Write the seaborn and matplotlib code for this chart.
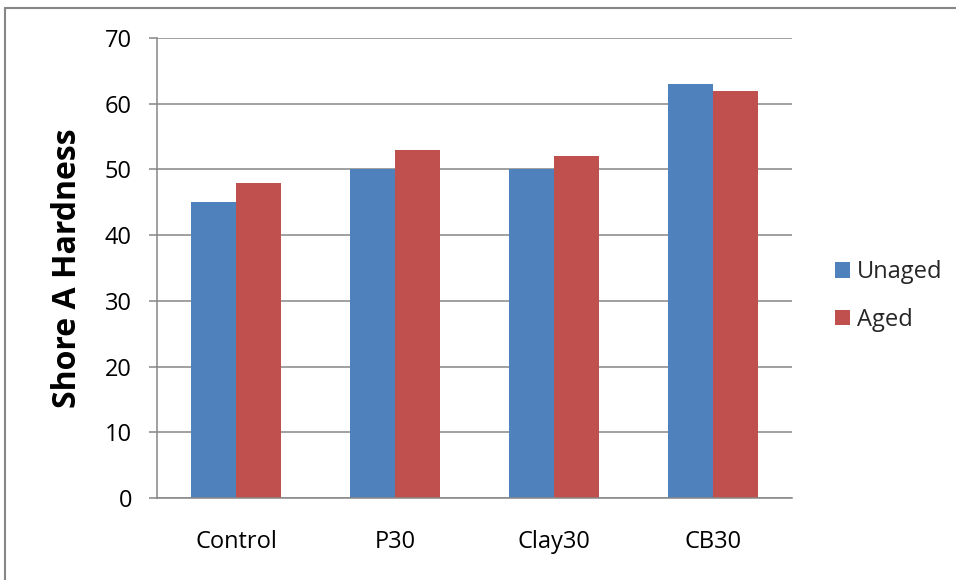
import pandas as pd
import numpy as np
import matplotlib.pyplot as plt
import seaborn as sns
from matplotlib.lines import Line2D

# data
samples = ['Control', 'P30', 'Clay30', 'CB30']
unaged = [45, 50, 50, 63]
aged = [48, 53, 52, 62]
series = ['Unaged', 'Aged']

df = pd.DataFrame({
    'sample': samples * 2,
    'condition': ['Unaged'] * len(samples) + ['Aged'] * len(samples),
    'hardness': unaged + aged,
})

sns.set_style('white')
plt.rcParams['font.family'] = ['Open Sans', 'DejaVu Sans']

grey = '#868686'
fig = plt.figure(figsize=(9.56, 5.8), dpi=100)
ax = fig.add_axes([0.1642, 0.1414, 0.6643, 0.7931])

sns.barplot(data=df, x='sample', y='hardness', hue='condition',
            hue_order=series, order=samples,
            palette={'Unaged': '#4F81BD', 'Aged': '#C0504D'},
            saturation=1, width=0.567, gap=0, errorbar=None,
            edgecolor='none', ax=ax)

ax.set_ylim(0, 70)
ax.set_yticks(range(0, 71, 10))
ax.set_axisbelow(True)
ax.yaxis.grid(True, color=grey, linewidth=1.1)
ax.xaxis.grid(False)

for side in ['top', 'right']:
    ax.spines[side].set_visible(False)
for side in ['left', 'bottom']:
    ax.spines[side].set_color(grey)
    ax.spines[side].set_linewidth(1.1)

ax.tick_params(axis='y', direction='out', length=6, width=1.1, color=grey,
               labelsize=17, pad=12, left=True, labelcolor='black')
ax.tick_params(axis='x', length=0, labelsize=17, pad=23, labelcolor='black')

ax.set_xlabel('')
ax.set_ylabel('Shore A Hardness', fontsize=23, fontweight='bold', labelpad=15,
              color='black')

handles, labels = ax.get_legend_handles_labels()
ax.legend(handles, labels, loc='center left', bbox_to_anchor=(0.8734, 0.4897),
          bbox_transform=fig.transFigure, frameon=False, fontsize=17,
          borderpad=0, borderaxespad=0, handlelength=0.64, handleheight=0.64,
          handletextpad=0.3, labelspacing=1.0)

# chart area border (top and left edges visible)
fig.add_artist(Line2D([5 / 956, 5 / 956], [0, 1 - 8 / 580], color=grey,
                      linewidth=1.5, transform=fig.transFigure))
fig.add_artist(Line2D([5 / 956, 1], [1 - 8 / 580, 1 - 8 / 580], color=grey,
                      linewidth=1.5, transform=fig.transFigure))

fig.savefig('out.png', dpi=100)
